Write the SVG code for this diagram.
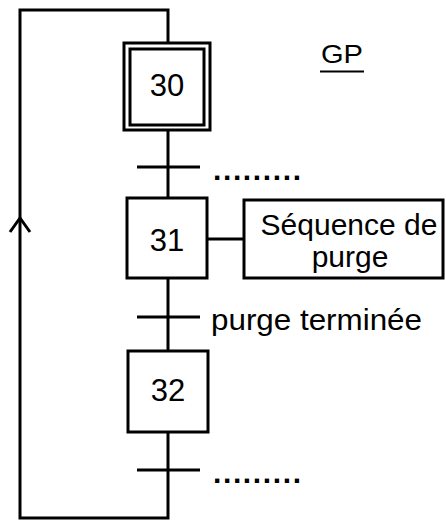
<svg xmlns="http://www.w3.org/2000/svg" width="446" height="520" viewBox="0 0 446 520">
<style>
.ln{fill:none;stroke:#000;stroke-width:3;stroke-linecap:square}
.box{fill:#fff;stroke:#000;stroke-width:3}
.t{font-family:"Liberation Sans",Arial,sans-serif;font-size:30px;fill:#000}
.n{font-size:31px}
.c{text-anchor:middle}
.d{font-weight:bold}
</style>
<rect width="446" height="520" fill="#fff"/>
<g id="connectors">
<polyline class="ln" points="168,43 168,10 20,10 20,518 168,518 168,432"/>
<line class="ln" x1="168" y1="130" x2="168" y2="198"/>
<line class="ln" x1="168" y1="278" x2="168" y2="351"/>
<line class="ln" x1="207" y1="239" x2="244" y2="239"/>
<polyline class="ln" points="10,232 20,218 30,232" style="stroke-linecap:butt;stroke-linejoin:miter"/>
</g>
<g id="step30">
<rect class="box" x="124" y="43" width="86" height="87"/>
<rect class="box" x="130" y="49" width="74" height="76" stroke-width="2.5"/>
<text class="t n c" x="167" y="96">30</text>
</g>
<g id="title">
<text class="t" x="321" y="63" textLength="42" lengthAdjust="spacingAndGlyphs" style="font-size:25px">GP</text>
<line x1="320" y1="71.5" x2="364" y2="71.5" stroke="#000" stroke-width="2"/>
</g>
<g id="transition1">
<line class="ln" x1="137" y1="167" x2="200" y2="167" style="stroke-linecap:butt"/>
<text class="t d" x="213" y="180" textLength="88" lengthAdjust="spacing">.........</text>
</g>
<g id="step31">
<rect class="box" x="127" y="198" width="80" height="80"/>
<text class="t n c" x="167" y="251">31</text>
</g>
<g id="action31">
<rect class="box" x="244" y="200" width="199" height="78"/>
<text class="t c" x="349" y="235">Séquence de</text>
<text class="t c" x="350" y="267">purge</text>
</g>
<g id="transition2">
<line class="ln" x1="137" y1="317" x2="200" y2="317" style="stroke-linecap:butt"/>
<text class="t" x="211" y="330" textLength="211" lengthAdjust="spacingAndGlyphs">purge terminée</text>
</g>
<g id="step32">
<rect class="box" x="128" y="351" width="80" height="81"/>
<text class="t n c" x="168" y="401">32</text>
</g>
<g id="transition3">
<line class="ln" x1="137" y1="470" x2="200" y2="470" style="stroke-linecap:butt"/>
<text class="t d" x="213" y="483" textLength="88" lengthAdjust="spacing">.........</text>
</g>
</svg>
